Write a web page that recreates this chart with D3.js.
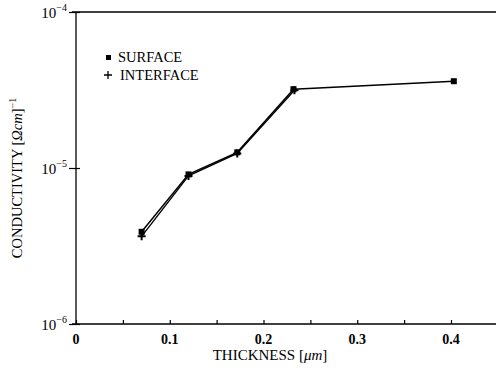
<!DOCTYPE html>
<html>
<head>
<meta charset="utf-8">
<script src="https://cdn.jsdelivr.net/npm/d3@7"></script>
<style>
body { margin: 0; background: #fff; }
text { font-family: "Liberation Serif", "DejaVu Serif", serif; fill: #000; }
</style>
</head>
<body>
<svg width="496" height="370"></svg>
<script>
// thickness (um) and conductivity (ohm cm)^-1
var surfaceX = [0.07, 0.12, 0.172, 0.232, 0.403];
var surfaceY = [3.9e-6, 9.1e-6, 1.26e-5, 3.2e-5, 3.6e-5];
var interfaceX = [0.07, 0.12, 0.172, 0.233];
var interfaceY = [3.65e-6, 8.9e-6, 1.24e-5, 3.15e-5];
var xTicks = [0, 0.1, 0.2, 0.3, 0.4];
var yTicks = [1e-6, 1e-5, 1e-4];
var yExp = ["-6", "-5", "-4"];

var svg = d3.select("svg");

var x = d3.scaleLinear().domain([0, 0.448]).range([76, 496]);
var y = d3.scaleLog().domain([1e-6, 1e-4]).range([324, 12]);

// frame lines
svg.append("line").attr("x1", 72).attr("x2", 496).attr("y1", 12).attr("y2", 12)
	.attr("stroke", "#000").attr("stroke-width", 1.5);

// x axis, ticks inward
var xAxis = svg.append("g").attr("transform", "translate(0,324)")
	.call(d3.axisTop(x).tickValues(d3.range(0, 0.45, 0.05)).tickSize(4).tickFormat(""));
xAxis.select(".domain").attr("d", "M72,0H496").attr("stroke-width", 1.6);
xAxis.selectAll(".tick line").attr("stroke-width", 1.2);

svg.selectAll(".xlab").data(xTicks).enter().append("text")
	.attr("x", function(d) { return x(d); })
	.attr("y", 344)
	.attr("text-anchor", "middle")
	.attr("font-size", 14)
	.attr("font-weight", "bold")
	.text(function(d) { return d == 0 ? "0" : d3.format(".1f")(d); });

// y axis
var yAxis = svg.append("g").attr("transform", "translate(76,0)")
	.call(d3.axisLeft(y).tickValues(yTicks).tickSize(7).tickFormat(""));
yAxis.select(".domain").attr("d", "M0,12V324").attr("stroke-width", 1.3);
yAxis.selectAll(".tick line").attr("x2", 4).attr("x1", -7).attr("stroke-width", 1.2);

var ylab = svg.selectAll(".ylab").data(yTicks).enter().append("text")
	.attr("x", 67)
	.attr("y", function(d) { return y(d) + 6; })
	.attr("text-anchor", "end")
	.attr("font-size", 15);
ylab.append("tspan").text("10");
ylab.append("tspan").attr("dy", -7).attr("font-size", 10)
	.text(function(d, i) { return "\u2212" + yExp[i].slice(1); });

// lines
var line = d3.line()
	.x(function(d) { return x(d[0]); })
	.y(function(d) { return y(d[1]); });

var surf = surfaceX.map(function(d, i) { return [d, surfaceY[i]]; });
var intf = interfaceX.map(function(d, i) { return [d, interfaceY[i]]; });

svg.append("path").datum(surf).attr("d", line)
	.attr("fill", "none").attr("stroke", "#000").attr("stroke-width", 1.5);
svg.append("path").datum(intf).attr("d", line)
	.attr("fill", "none").attr("stroke", "#000").attr("stroke-width", 1.3);

svg.selectAll(".sq").data(surf).enter().append("rect")
	.attr("x", function(d) { return x(d[0]) - 3; })
	.attr("y", function(d) { return y(d[1]) - 3; })
	.attr("width", 6).attr("height", 6).attr("fill", "#000");

svg.selectAll(".plus").data(intf).enter().append("path")
	.attr("d", function(d) {
		var cx = x(d[0]), cy = y(d[1]);
		return "M" + (cx - 4) + "," + cy + "H" + (cx + 4) + "M" + cx + "," + (cy - 4) + "V" + (cy + 4);
	})
	.attr("stroke", "#000").attr("stroke-width", 2);

// legend
svg.append("rect").attr("x", 106).attr("y", 55).attr("width", 5).attr("height", 5).attr("fill", "#000");
svg.append("text").attr("x", 118).attr("y", 62).attr("font-size", 14.5).text("SURFACE");
svg.append("path").attr("d", "M104,75H112M108,71V79").attr("stroke", "#000").attr("stroke-width", 1.3);
svg.append("text").attr("x", 120).attr("y", 80).attr("font-size", 14.5).text("INTERFACE");

// axis titles
var xt = svg.append("text").attr("x", 270).attr("y", 360).attr("text-anchor", "middle").attr("font-size", 15);
xt.append("tspan").text("THICKNESS [");
xt.append("tspan").attr("font-style", "italic").text("\u03bcm");
xt.append("tspan").text("]");

var yt = svg.append("text").attr("transform", "translate(22,178) rotate(-90)")
	.attr("text-anchor", "middle").attr("font-size", 14.5);
yt.append("tspan").text("CONDUCTIVITY [");
yt.append("tspan").attr("font-style", "italic").text("\u03a9cm");
yt.append("tspan").text("]");
yt.append("tspan").attr("dy", -6).attr("font-size", 10).text("\u22121");
</script>
</body>
</html>
